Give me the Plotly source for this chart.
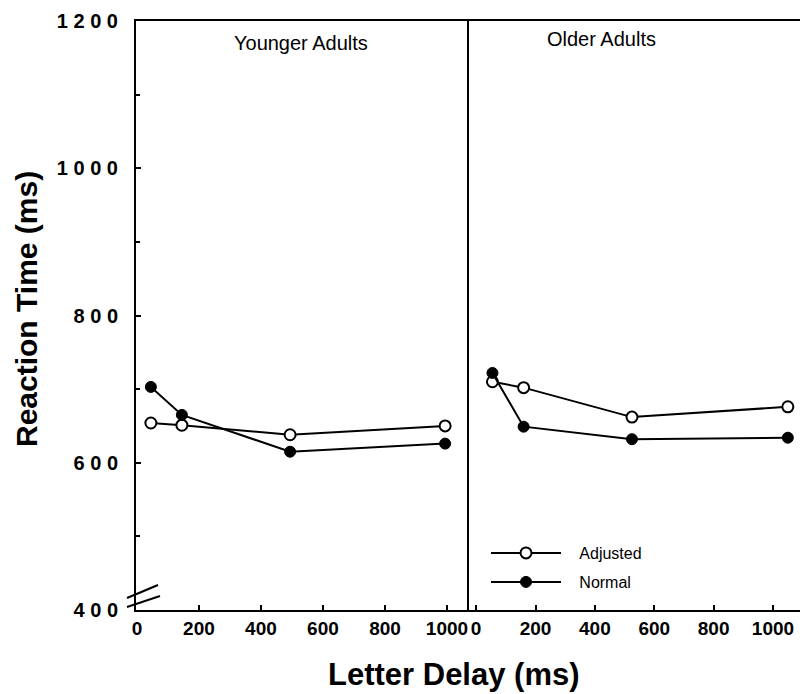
import plotly.graph_objects as go

# Data
young_delay = [45, 145, 494, 994]
young_adjusted = [654, 651, 638, 650]
young_normal = [703, 665, 615, 626]

old_delay = [55, 160, 525, 1050]
old_adjusted = [710, 702, 662, 676]
old_normal = [722, 649, 632, 634]

x_ticks = [0, 200, 400, 600, 800, 1000]
y_ticks = [400, 600, 800, 1000, 1200]
y_tick_text = ["4 0 0", "6 0 0", "8 0 0", "1 0 0 0", "1 2 0 0"]

W, H = 800, 694
L, R, T, B = 136, 0, 21, 84
split_px = 469
pw = W - L - R
ph = H - T - B
split = (split_px - L) / pw


def px(xp):
    return (xp - L) / pw


def py(yp):
    return (H - B - yp) / ph


fig = go.Figure()

open_marker = dict(symbol="circle", size=11, color="white", line=dict(color="black", width=2))
fill_marker = dict(symbol="circle", size=11, color="black", line=dict(color="black", width=1))
line_style = dict(color="black", width=2)

fig.add_trace(go.Scatter(x=young_delay, y=young_adjusted, mode="lines+markers", name="&nbsp;&nbsp;&nbsp;Adjusted",
                         marker=open_marker, line=line_style, xaxis="x", yaxis="y", showlegend=True,
                         legend="legend"))
fig.add_trace(go.Scatter(x=young_delay, y=young_normal, mode="lines+markers", name="&nbsp;&nbsp;&nbsp;Normal",
                         marker=fill_marker, line=line_style, xaxis="x", yaxis="y", showlegend=True,
                         legend="legend2"))
fig.add_trace(go.Scatter(x=old_delay, y=old_adjusted, mode="lines+markers", name="Adjusted",
                         marker=open_marker, line=line_style, xaxis="x2", yaxis="y2", showlegend=False))
fig.add_trace(go.Scatter(x=old_delay, y=old_normal, mode="lines+markers", name="Normal",
                         marker=fill_marker, line=line_style, xaxis="x2", yaxis="y2", showlegend=False))

xtickfont = dict(family="Liberation Sans", size=19, color="black")
ytickfont = dict(family="Liberation Sans", size=20, color="black")

xcommon = dict(showline=True, linecolor="black", linewidth=2, mirror=True, showgrid=False, zeroline=False,
               ticks="inside", ticklen=5, tickwidth=1.5, tickcolor="black", tickvals=x_ticks,
               ticktext=[f"<b>{v}</b>" for v in x_ticks], tickfont=xtickfont)

legend_common = dict(xanchor="left", yanchor="middle", bgcolor="rgba(0,0,0,0)", itemwidth=70,
                     borderwidth=0, font=dict(family="Liberation Sans", size=16, color="black"))

fig.update_layout(
    width=W, height=H,
    margin=dict(l=L, r=R, t=T, b=B),
    paper_bgcolor="white", plot_bgcolor="white",
    xaxis=dict(domain=[0, split], range=[-3, 1071], anchor="y", **xcommon),
    xaxis2=dict(domain=[split, 1], range=[-24, 1091], anchor="y2", **xcommon),
    yaxis=dict(domain=[0, 1], range=[400, 1200], anchor="x", showline=True, linecolor="black", linewidth=2,
               showgrid=False, zeroline=False, ticks="inside", ticklen=5, tickwidth=1.5, tickcolor="black",
               tickvals=y_ticks, ticktext=[f"<b>{t}</b>" for t in y_tick_text], tickfont=ytickfont,
               ticklabelstandoff=12,
               minor=dict(ticks="inside", ticklen=4, tickcolor="black", dtick=100)),
    yaxis2=dict(domain=[0, 1], range=[400, 1200], anchor="x2", showline=True, linecolor="black", linewidth=2,
                showgrid=False, zeroline=False, showticklabels=False, ticks=""),
    showlegend=True,
    legend=dict(x=px(486), y=py(553), **legend_common),
    legend2=dict(x=px(486), y=py(582), **legend_common),
)

fig.add_annotation(text="Younger Adults", x=px(301), y=py(43), xref="paper", yref="paper",
                   xanchor="center", yanchor="middle", showarrow=False,
                   font=dict(family="Liberation Sans", size=20, color="black"))
fig.add_annotation(text="Older Adults", x=px(601), y=py(39), xref="paper", yref="paper",
                   xanchor="center", yanchor="middle", showarrow=False,
                   font=dict(family="Liberation Sans", size=20, color="black"))

title_font = dict(family="Liberation Sans", size=31, color="black")
fig.add_annotation(text="<b>Letter Delay (ms)</b>", x=px(454), y=py(674), xref="paper",
                   yref="paper", xanchor="center", yanchor="middle", showarrow=False, font=title_font)
fig.add_annotation(text="<b>Reaction Time (ms)</b>", x=px(27), y=py(309), xref="paper",
                   yref="paper", xanchor="center", yanchor="middle", showarrow=False,
                   font=dict(family="Liberation Sans", size=30, color="black"), textangle=-90)

# axis break marks
for (x0, y0, x1, y1) in [(127, 598, 158, 585), (127, 607, 160, 596)]:
    fig.add_shape(type="line", xref="paper", yref="paper",
                  x0=px(x0), y0=py(y0), x1=px(x1), y1=py(y1),
                  line=dict(color="black", width=2))

fig.write_html("out.html")
